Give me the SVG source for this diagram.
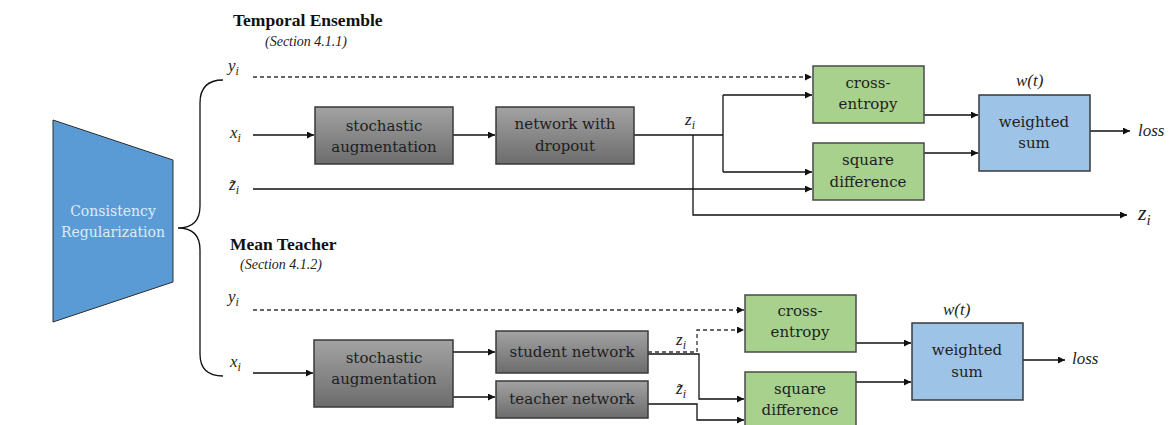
<svg xmlns="http://www.w3.org/2000/svg" width="1174" height="425" viewBox="0 0 1174 425">
<defs>
<linearGradient id="gray" x1="0" y1="0" x2="0" y2="1">
<stop offset="0" stop-color="#a3a3a3"/>
<stop offset="1" stop-color="#6c6c6c"/>
</linearGradient>
<marker id="ah" viewBox="0 0 10 10" refX="10" refY="5" markerWidth="7" markerHeight="7" markerUnits="userSpaceOnUse" orient="auto">
<path d="M0,0 L10,5 L0,10 z" fill="#111"/>
</marker>
</defs>
<style>
.gbox{fill:url(#gray);stroke:#3a3a3a;stroke-width:1.5}
.green{fill:#a9d18e;stroke:#4a4a4a;stroke-width:1.5}
.blue{fill:#9dc3e6;stroke:#3a3a3a;stroke-width:1.5}
.lbl{font-size:15px;fill:#1e1e1e;text-anchor:middle}
.cr{font-size:14px;fill:#deebf7;text-anchor:middle}
.math{font-style:italic;font-size:17px;fill:#1e1e1e}
.sub{font-size:12px}
.title{font-weight:bold;font-size:17.5px;fill:#111}
.sec{font-style:italic;font-size:14px;fill:#222}
.ln{fill:none;stroke:#111;stroke-width:1.3}
.dash{fill:none;stroke:#333;stroke-width:1.3;stroke-dasharray:4,3}
</style>

<g id="consistency" font-family="DejaVu Serif, serif">
<polygon points="53,120 173,160 173,282 53,322" fill="#5b9bd5" stroke="#2f2f2f" stroke-width="1"/>
<text class="cr" x="113" y="216">Consistency</text>
<text class="cr" x="113" y="237">Regularization</text>
</g>

<g id="brace">
<path class="ln" d="M223,80 Q200,80 200,103 L200,206 Q200,228 178,228 Q200,228 200,250 L200,354 Q200,376 223,376" stroke-width="1.6"/>
</g>

<g id="titles" font-family="Liberation Serif, serif">
<text class="title" x="233" y="26">Temporal Ensemble</text>
<text class="sec" x="265" y="46">(Section 4.1.1)</text>
<text class="title" x="230" y="250">Mean Teacher</text>
<text class="sec" x="240" y="269">(Section 4.1.2)</text>
</g>

<g id="labels" font-family="Liberation Serif, serif">
<text class="math" x="228" y="71">y<tspan class="sub" dy="4">i</tspan></text>
<text class="math" x="230" y="138">x<tspan class="sub" dy="4">i</tspan></text>
<text class="math" x="229" y="190">z̃<tspan class="sub" dy="4">i</tspan></text>
<text class="math" x="685" y="125">z<tspan class="sub" dy="4">i</tspan></text>
<text class="math" x="1016" y="86">w(t)</text>
<text class="math" x="1138" y="136">loss</text>
<text class="math" x="1138" y="220" style="font-size:22px">z<tspan class="sub" dy="5" style="font-size:15px">i</tspan></text>

<text class="math" x="228" y="302">y<tspan class="sub" dy="4">i</tspan></text>
<text class="math" x="230" y="367">x<tspan class="sub" dy="4">i</tspan></text>
<text class="math" x="676" y="345">z<tspan class="sub" dy="4">i</tspan></text>
<text class="math" x="676" y="394">z̃<tspan class="sub" dy="4">i</tspan></text>
<text class="math" x="943" y="315">w(t)</text>
<text class="math" x="1072" y="364">loss</text>
</g>

<g id="connectors">
<line class="dash" x1="253" y1="77" x2="812" y2="77" marker-end="url(#ah)"/>
<line class="ln" x1="253" y1="135" x2="314" y2="135" marker-end="url(#ah)"/>
<line class="ln" x1="453" y1="135" x2="495" y2="135" marker-end="url(#ah)"/>
<line class="ln" x1="634" y1="135" x2="723" y2="135"/>
<path class="ln" d="M723,95 L723,172"/>
<line class="ln" x1="723" y1="95" x2="812" y2="95" marker-end="url(#ah)"/>
<line class="ln" x1="723" y1="172" x2="812" y2="172" marker-end="url(#ah)"/>
<line class="ln" x1="253" y1="189" x2="812" y2="189" marker-end="url(#ah)"/>
<path class="ln" d="M693,135 L693,215 L1127,215" marker-end="url(#ah)"/>
<line class="ln" x1="924" y1="115" x2="978" y2="115" marker-end="url(#ah)"/>
<line class="ln" x1="924" y1="153" x2="978" y2="153" marker-end="url(#ah)"/>
<line class="ln" x1="1090" y1="131" x2="1130" y2="131" marker-end="url(#ah)"/>
<line class="dash" x1="253" y1="310" x2="744" y2="310" marker-end="url(#ah)"/>
<line class="ln" x1="253" y1="373" x2="313" y2="373" marker-end="url(#ah)"/>
<line class="ln" x1="453" y1="352" x2="495" y2="352" marker-end="url(#ah)"/>
<line class="ln" x1="453" y1="397" x2="495" y2="397" marker-end="url(#ah)"/>
<path class="dash" d="M648,352 L697,352 L697,330 L744,330" marker-end="url(#ah)"/>
<path class="ln" d="M648,354 L699,354 L699,399 L744,399" marker-end="url(#ah)"/>
<path class="ln" d="M648,404 L697,404 L697,420 L744,420" marker-end="url(#ah)"/>
<line class="ln" x1="856" y1="343" x2="911" y2="343" marker-end="url(#ah)"/>
<line class="ln" x1="856" y1="382" x2="911" y2="382" marker-end="url(#ah)"/>
<line class="ln" x1="1023" y1="360" x2="1065" y2="360" marker-end="url(#ah)"/>
</g>

<g id="te-aug" font-family="DejaVu Serif, serif">
<rect class="gbox" x="315" y="107" width="138" height="57"/>
<text class="lbl" x="384" y="131">stochastic</text>
<text class="lbl" x="384" y="152">augmentation</text>
</g>
<g id="te-net" font-family="DejaVu Serif, serif">
<rect class="gbox" x="496" y="107" width="138" height="57"/>
<text class="lbl" x="565" y="129">network with</text>
<text class="lbl" x="565" y="151">dropout</text>
</g>
<g id="te-ce" font-family="DejaVu Serif, serif">
<rect class="green" x="813" y="66" width="111" height="57"/>
<text class="lbl" x="868" y="88">cross-</text>
<text class="lbl" x="868" y="109">entropy</text>
</g>
<g id="te-sq" font-family="DejaVu Serif, serif">
<rect class="green" x="813" y="143" width="111" height="57"/>
<text class="lbl" x="868" y="165">square</text>
<text class="lbl" x="868" y="187">difference</text>
</g>
<g id="te-ws" font-family="DejaVu Serif, serif">
<rect class="blue" x="979" y="95" width="111" height="76"/>
<text class="lbl" x="1034" y="127">weighted</text>
<text class="lbl" x="1034" y="148">sum</text>
</g>

<g id="mt-aug" font-family="DejaVu Serif, serif">
<rect class="gbox" x="314" y="340" width="139" height="67"/>
<text class="lbl" x="384" y="363">stochastic</text>
<text class="lbl" x="384" y="384">augmentation</text>
</g>
<g id="mt-student" font-family="DejaVu Serif, serif">
<rect class="gbox" x="496" y="331" width="152" height="42"/>
<text class="lbl" x="572" y="357">student network</text>
</g>
<g id="mt-teacher" font-family="DejaVu Serif, serif">
<rect class="gbox" x="496" y="381" width="152" height="37"/>
<text class="lbl" x="572" y="404">teacher network</text>
</g>
<g id="mt-ce" font-family="DejaVu Serif, serif">
<rect class="green" x="745" y="295" width="111" height="57"/>
<text class="lbl" x="800" y="316">cross-</text>
<text class="lbl" x="800" y="337">entropy</text>
</g>
<g id="mt-sq" font-family="DejaVu Serif, serif">
<rect class="green" x="745" y="372" width="111" height="60"/>
<text class="lbl" x="800" y="394">square</text>
<text class="lbl" x="800" y="415">difference</text>
</g>
<g id="mt-ws" font-family="DejaVu Serif, serif">
<rect class="blue" x="912" y="323" width="111" height="77"/>
<text class="lbl" x="967" y="355">weighted</text>
<text class="lbl" x="967" y="377">sum</text>
</g>
</svg>
